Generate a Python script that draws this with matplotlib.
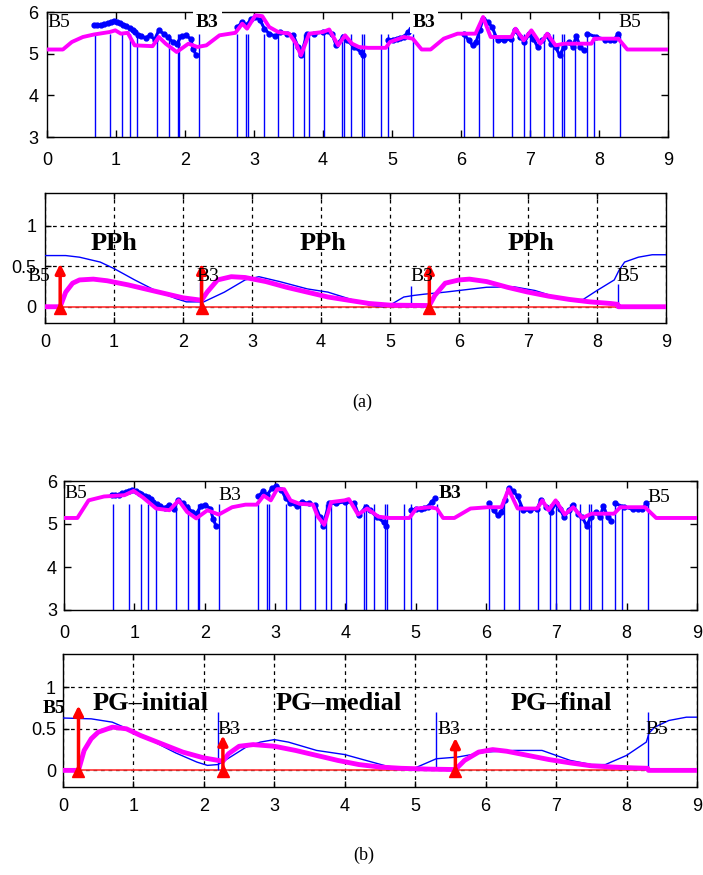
import matplotlib
matplotlib.use("Agg")
import matplotlib.pyplot as plt

plt.rcParams['font.family'] = ['Liberation Sans', 'DejaVu Sans']

# ---------------- data ----------------
x_ticks = [0, 1, 2, 3, 4, 5, 6, 7, 8, 9]
top_yticks = [3, 4, 5, 6]
bot_yticks = [0, 0.5, 1]
bot_yticklabels = ["0", "0.5", "1"]

# boundary lines in the top panels (shared by (a) and (b))
vline_x = [0.69, 0.92, 1.09, 1.20, 1.31, 1.59, 1.77, 1.90, 1.92, 2.21,
           2.76, 2.89, 2.92, 3.15, 3.35, 3.57, 3.73, 3.79, 4.01, 4.27,
           4.30, 4.41, 4.57, 4.59, 4.84, 4.94, 5.30, 6.04, 6.26, 6.47,
           6.74, 6.91, 7.00, 7.20, 7.34, 7.47, 7.49, 7.65, 7.83, 7.93, 8.30]
vline_top = 5.47

# measured F0 (blue dots), three segments, shared by (a) and (b)
f0_seg1_x = [0.68, 0.73, 0.78, 0.83, 0.88, 0.93, 0.97, 1.02, 1.06, 1.10, 1.15, 1.20, 1.24, 1.27,
             1.32, 1.36, 1.43, 1.49, 1.56, 1.62, 1.69, 1.75, 1.82, 1.88, 1.95, 2.01, 2.08, 2.12, 2.16]
f0_seg1_y = [5.68, 5.68, 5.68, 5.71, 5.74, 5.76, 5.78, 5.76, 5.73, 5.70, 5.66, 5.62, 5.57, 5.52,
             5.46, 5.42, 5.38, 5.44, 5.34, 5.56, 5.48, 5.40, 5.28, 5.24, 5.42, 5.44, 5.36, 5.12, 4.96]
f0_seg2_x = [2.76, 2.83, 2.89, 2.96, 3.02, 3.09, 3.15, 3.22, 3.31, 3.38, 3.48, 3.57, 3.64, 3.68,
             3.77, 3.87, 4.00, 4.13, 4.19, 4.29, 4.35, 4.45, 4.55, 4.58]
f0_seg2_y = [5.64, 5.76, 5.68, 5.84, 5.88, 5.80, 5.60, 5.48, 5.42, 5.52, 5.48, 5.44, 5.16, 4.96,
             5.48, 5.48, 5.52, 5.48, 5.20, 5.40, 5.32, 5.16, 5.04, 4.96]
f0_seg3_x = [4.94, 5.01, 5.07, 5.12, 5.17, 5.23, 5.28]
f0_seg3_y = [5.32, 5.34, 5.36, 5.38, 5.40, 5.52, 5.60]
f0_seg4_x = [6.04, 6.11, 6.17, 6.22, 6.27, 6.32, 6.39, 6.45, 6.53, 6.63, 6.73, 6.78, 6.86, 6.92,
             6.99, 7.05, 7.11, 7.18, 7.24, 7.31, 7.37, 7.43, 7.49, 7.56, 7.62, 7.67, 7.73, 7.78]
f0_seg4_y = [5.48, 5.32, 5.20, 5.28, 5.56, 5.84, 5.76, 5.64, 5.32, 5.32, 5.36, 5.56, 5.40, 5.28,
             5.48, 5.36, 5.16, 5.32, 5.44, 5.24, 5.16, 4.96, 5.16, 5.28, 5.16, 5.42, 5.16, 5.08]
f0_seg5_x = [7.83, 7.96, 8.09, 8.16, 8.22, 8.28]
f0_seg5_y = [5.48, 5.40, 5.34, 5.34, 5.34, 5.48]

# modelled F0 contour (magenta), panel (a)
fit_a_x = [0, 0.23, 0.36, 0.52, 0.68, 0.91, 0.99, 1.07, 1.17, 1.27, 1.53, 1.62, 1.72, 1.88, 2.05,
           2.18, 2.31, 2.50, 2.73, 2.83, 2.90, 3.02, 3.12, 3.22, 3.35, 3.51, 3.61, 3.68, 3.80,
           4.00, 4.09, 4.22, 4.32, 4.42, 4.52, 4.65, 4.91, 4.97, 5.17, 5.30, 5.43, 5.56, 5.75,
           5.95, 6.21, 6.32, 6.43, 6.73, 6.79, 6.91, 7.02, 7.15, 7.25, 7.37, 7.50, 7.89, 7.93,
           8.28, 8.41, 9]
fit_a_y = [5.10, 5.10, 5.28, 5.40, 5.46, 5.52, 5.56, 5.48, 5.50, 5.20, 5.18, 5.40, 5.24, 5.04, 5.24,
           5.16, 5.20, 5.44, 5.50, 5.72, 5.60, 5.92, 5.90, 5.64, 5.52, 5.48, 5.24, 4.96, 5.48,
           5.52, 5.58, 5.20, 5.44, 5.24, 5.16, 5.14, 5.14, 5.28, 5.40, 5.36, 5.10, 5.10, 5.36,
           5.48, 5.48, 5.88, 5.40, 5.40, 5.60, 5.32, 5.56, 5.24, 5.48, 5.20, 5.24, 5.24, 5.36,
           5.36, 5.10, 5.10]

# modelled F0 contour (magenta), panel (b)
fit_b_x = [0, 0.19, 0.35, 0.57, 0.86, 0.99, 1.12, 1.31, 1.50, 1.63, 1.75, 1.88, 2.04, 2.20, 2.39,
           2.58, 2.74, 2.84, 2.94, 3.03, 3.13, 3.22, 3.35, 3.54, 3.61, 3.70, 3.80, 3.99, 4.05,
           4.18, 4.31, 4.47, 4.63, 4.91, 5.01, 5.20, 5.30, 5.39, 5.55, 5.78, 6.03, 6.22, 6.32,
           6.45, 6.73, 6.80, 6.89, 6.99, 7.12, 7.24, 7.37, 7.50, 7.82, 7.91, 8.26, 8.42, 9]
fit_b_y = [5.14, 5.14, 5.55, 5.64, 5.67, 5.77, 5.62, 5.36, 5.32, 5.55, 5.28, 5.13, 5.32, 5.22, 5.39,
           5.45, 5.45, 5.66, 5.55, 5.81, 5.81, 5.55, 5.47, 5.45, 5.17, 4.98, 5.51, 5.55, 5.58,
           5.22, 5.36, 5.17, 5.14, 5.14, 5.36, 5.39, 5.36, 5.14, 5.14, 5.36, 5.39, 5.39, 5.81,
           5.36, 5.36, 5.55, 5.32, 5.55, 5.22, 5.39, 5.14, 5.24, 5.24, 5.39, 5.39, 5.14, 5.14]

# phrase components (magenta, thick), panel (a)
phr_a_x = [0, 0.22, 0.30, 0.40, 0.50, 0.70, 0.90, 1.20, 1.50, 1.80, 2.00, 2.27, 2.35, 2.50, 2.70,
           2.90, 3.20, 3.50, 3.80, 4.10, 4.40, 4.70, 5.00, 5.57, 5.65, 5.80, 6.00, 6.15, 6.40,
           6.70, 7.00, 7.30, 7.60, 7.90, 8.20, 8.30, 8.31, 9]
phr_a_y = [0, 0, 0.18, 0.29, 0.33, 0.34, 0.32, 0.27, 0.21, 0.15, 0.11, 0.08, 0.18, 0.33, 0.37,
           0.36, 0.31, 0.24, 0.18, 0.12, 0.08, 0.04, 0.02, 0.015, 0.14, 0.29, 0.33, 0.34, 0.31,
           0.24, 0.18, 0.13, 0.09, 0.06, 0.04, 0.03, 0, 0]
# reference contour (blue, thin), panel (a)
ref_a_x = [0, 0.30, 0.50, 0.80, 1.00, 1.30, 1.60, 1.90, 2.05, 2.25, 2.30, 2.60, 2.90, 3.10, 3.40,
           3.80, 4.10, 4.40, 4.70, 4.90, 5.00, 5.20, 5.35, 5.50, 5.80, 6.10, 6.40, 6.80, 7.10,
           7.40, 7.60, 7.80, 8.00, 8.25, 8.32, 8.40, 8.60, 8.80, 9.00]
ref_a_y = [0.63, 0.63, 0.61, 0.55, 0.47, 0.33, 0.20, 0.10, 0.06, 0.06, 0.06, 0.18, 0.33, 0.37, 0.31,
           0.22, 0.18, 0.10, 0.02, 0.0, 0.02, 0.12, 0.14, 0.155, 0.18, 0.21, 0.24, 0.245, 0.20,
           0.12, 0.08, 0.09, 0.20, 0.33, 0.45, 0.55, 0.61, 0.64, 0.64]
ref_a_vx = [2.25, 5.30, 8.30]
ref_a_vtop = [0.30, 0.25, 0.28]

# phrase components (magenta, thick), panel (b)
phr_b_x = [0, 0.22, 0.30, 0.40, 0.50, 0.70, 0.90, 1.10, 1.40, 1.70, 2.00, 2.27, 2.35, 2.50, 2.70,
           3.00, 3.30, 3.60, 3.90, 4.20, 4.50, 4.80, 5.20, 5.57, 5.70, 5.90, 6.10, 6.30, 6.60,
           6.90, 7.20, 7.50, 7.80, 8.10, 8.30, 8.31, 9]
phr_b_y = [0, 0, 0.24, 0.38, 0.46, 0.52, 0.50, 0.42, 0.32, 0.22, 0.15, 0.11, 0.20, 0.29, 0.31,
           0.29, 0.24, 0.18, 0.12, 0.07, 0.04, 0.025, 0.015, 0.01, 0.12, 0.22, 0.25, 0.23, 0.18,
           0.13, 0.09, 0.055, 0.04, 0.03, 0.025, 0, 0]
# reference contour (blue, thin), panel (b)
ref_b_x = [0, 0.40, 0.70, 1.00, 1.30, 1.60, 1.90, 2.05, 2.20, 2.30, 2.60, 2.80, 3.00, 3.20, 3.60,
           4.00, 4.30, 4.60, 4.90, 5.00, 5.30, 5.60, 6.00, 6.40, 6.80, 7.00, 7.20, 7.50, 7.70,
           8.00, 8.28, 8.32, 8.40, 8.60, 8.85, 9.00]
ref_b_y = [0.63, 0.62, 0.58, 0.47, 0.34, 0.21, 0.10, 0.06, 0.07, 0.12, 0.28, 0.34, 0.37, 0.34, 0.24,
           0.19, 0.12, 0.05, 0.02, 0.03, 0.14, 0.16, 0.22, 0.24, 0.24, 0.18, 0.12, 0.07, 0.07,
           0.18, 0.34, 0.45, 0.52, 0.60, 0.64, 0.64]
ref_b_vx = [2.20, 5.30, 8.30]
ref_b_vtop = [0.70, 0.70, 0.70]

# phrase commands (red arrows)
cmd_x = [0.22, 2.27, 5.57]
cmd_a_h = [0.53, 0.53, 0.53]
cmd_b_h = [0.78, 0.42, 0.39]

# labels
top_a_labels = [("B5", 0.0, 5.76, 'normal', False), ("B3", 2.16, 5.76, 'bold', True),
                ("B3", 5.30, 5.76, 'bold', True), ("B5", 8.28, 5.76, 'normal', False)]
top_b_labels = [("B5", 0.0, 5.70, 'normal'), ("B3", 2.20, 5.66, 'normal'),
                ("B3", 5.33, 5.70, 'bold'), ("B5", 8.30, 5.62, 'normal')]
bot_a_labels = [("B5", -0.26, 0.37), ("B3", 2.19, 0.37), ("B3", 5.30, 0.37), ("B5", 8.28, 0.37)]
bot_b_labels = [("B5", -0.29, 0.75), ("B3", 2.19, 0.49), ("B3", 5.31, 0.49), ("B5", 8.27, 0.49)]
phrase_a_names = [("PPh", 1.0), ("PPh", 4.03), ("PPh", 7.05)]
phrase_b_names = [("PG\u2013initial", 1.24), ("PG\u2013medial", 3.92), ("PG\u2013final", 7.07)]

BLUE = '#0000ff'
MAG = '#ff00ff'
RED = '#ff0000'
SERIF = ['Liberation Serif', 'DejaVu Serif']

fig = plt.figure(figsize=(7.03, 8.75), dpi=100)
W, H = 703.0, 875.0


def add_ax(l, t, r, b):
    return fig.add_axes([l / W, 1 - b / H, (r - l) / W, (b - t) / H])


def style_top(ax, xpad, ypad):
    ax.set_xlim(0, 9)
    ax.set_ylim(3, 6)
    ax.set_xticks(x_ticks)
    ax.set_yticks(top_yticks)
    ax.tick_params(direction='in', top=True, right=True, length=5, width=1,
                   labelsize=13)
    ax.tick_params(axis='x', pad=xpad)
    ax.tick_params(axis='y', pad=ypad)
    for s in ax.spines.values():
        s.set_linewidth(1.0)


def style_bot(ax, xpad, ypad):
    ax.set_xlim(0, 9)
    ax.set_ylim(-0.2, 1.4)
    ax.set_xticks(x_ticks)
    ax.set_yticks(bot_yticks)
    ax.set_yticklabels(bot_yticklabels)
    ax.tick_params(direction='in', top=True, right=True, length=4, width=1,
                   labelsize=13)
    ax.tick_params(axis='x', pad=xpad)
    ax.tick_params(axis='y', pad=ypad)
    ax.grid(True, color='black', linestyle=(0, (3, 3)), linewidth=0.9)
    for s in ax.spines.values():
        s.set_linewidth(1.0)


def draw_top(ax, fit_x, fit_y):
    ax.vlines(vline_x, 3, vline_top, color=BLUE, lw=1.0, zorder=2)
    for sx, sy in [(f0_seg1_x, f0_seg1_y), (f0_seg2_x, f0_seg2_y), (f0_seg3_x, f0_seg3_y),
                   (f0_seg4_x, f0_seg4_y), (f0_seg5_x, f0_seg5_y)]:
        ax.plot(sx, sy, color=BLUE, lw=2.2, marker='o', ms=3.5, zorder=3)
    ax.plot(fit_x, fit_y, color=MAG, lw=2.8, zorder=4)


def draw_bot(ax, ref_x, ref_y, ref_vx, ref_vtop, phr_x, phr_y, cmd_h):
    ax.plot([0, 9], [0, 0], color='#ff3030', lw=1.2, zorder=2)
    ax.plot(ref_x, ref_y, color=BLUE, lw=1.0, zorder=3)
    ax.vlines(ref_vx, 0, ref_vtop, color=BLUE, lw=1.0, zorder=3)
    ax.plot(phr_x, phr_y, color=MAG, lw=3.5, zorder=4)
    for cx, ch in zip(cmd_x, cmd_h):
        ax.annotate('', xy=(cx, ch), xytext=(cx, 0),
                    arrowprops=dict(arrowstyle='-|>', color=RED, lw=2.5,
                                    mutation_scale=14, shrinkA=0, shrinkB=0),
                    zorder=5)
    ax.plot(cmd_x, [-0.01] * len(cmd_x), linestyle='none', marker='^', ms=8,
            color=RED, zorder=5, clip_on=False)


# (a) top
ax1 = add_ax(47, 12, 668, 137)
style_top(ax1, 11, 6)
draw_top(ax1, fit_a_x, fit_a_y)
for t, x, y, w, box in top_a_labels:
    kw = dict(facecolor='white', edgecolor='none', pad=2) if box else None
    ax1.text(x, y, t, family=SERIF, fontsize=14, fontweight=w, ha='left', va='center',
             bbox=kw, zorder=10, clip_on=False)

# (a) bottom
ax2 = add_ax(45, 193, 666, 323)
style_bot(ax2, 8, 6)
draw_bot(ax2, ref_a_x, ref_a_y, ref_a_vx, ref_a_vtop, phr_a_x, phr_a_y, cmd_a_h)
for t, x, y in bot_a_labels:
    ax2.text(x, y, t, family=SERIF, fontsize=14, ha='left', va='center', zorder=6,
             clip_on=False)
for t, x in phrase_a_names:
    ax2.text(x, 0.78, t, family=SERIF, fontsize=19, fontweight='bold', ha='center',
             va='center', zorder=6)

fig.text(362 / W, 1 - 402 / H, "(a)", family=SERIF, fontsize=13, ha='center', va='center')

# (b) top
ax3 = add_ax(64, 481, 697, 610)
style_top(ax3, 11, 5)
draw_top(ax3, fit_b_x, fit_b_y)
for t, x, y, w in top_b_labels:
    ax3.text(x, y, t, family=SERIF, fontsize=14, fontweight=w, ha='left', va='center',
             zorder=10, clip_on=False)

# (b) bottom
ax4 = add_ax(63, 654, 697, 787)
style_bot(ax4, 8, 5)
draw_bot(ax4, ref_b_x, ref_b_y, ref_b_vx, ref_b_vtop, phr_b_x, phr_b_y, cmd_b_h)
for i, (t, x, y) in enumerate(bot_b_labels):
    ax4.text(x, y, t, family=SERIF, fontsize=14, fontweight='bold' if i == 0 else 'normal',
             ha='left', va='center', zorder=6, clip_on=False)
for t, x in phrase_b_names:
    ax4.text(x, 0.80, t, family=SERIF, fontsize=19, fontweight='bold', ha='center',
             va='center', zorder=6)

fig.text(364 / W, 1 - 855 / H, "(b)", family=SERIF, fontsize=13, ha='center', va='center')

fig.savefig("out.png", dpi=100)
